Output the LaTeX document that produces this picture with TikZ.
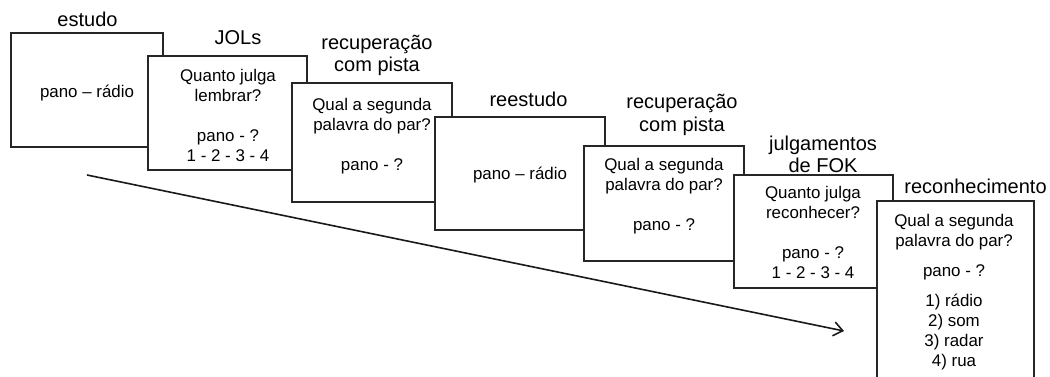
\documentclass[tikz,border=0pt]{standalone}
\usepackage{fontspec}
\setmainfont{Liberation Sans}
\usetikzlibrary{arrows.meta}
\tikzset{
  card/.style={draw=black!85, fill=white, line width=1.6pt, rectangle, inner sep=0pt},
  boxtxt/.style={anchor=base, inner sep=0pt, font=\fontsize{16.9}{20}\selectfont},
  lbl/.style={anchor=base, inner sep=0pt, font=\fontsize{20}{23}\selectfont},
  timearrow/.style={draw=black!90, line width=1.6pt, -{Straight Barb[length=9pt,width=14pt,line width=1.6pt]}}
}
\begin{document}
\begin{tikzpicture}[x=1pt,y=-1pt]
\useasboundingbox (0,0) rectangle (1050,376);
\clip (0,0) rectangle (1050,376);

% labels
\node[lbl] (l1) at (87.5,26) {estudo};
\node[lbl] (l2) at (238,44) {JOLs};
\node[lbl] (l3a) at (377,49) {recuperação};
\node[lbl] (l3b) at (377,71.5) {com pista};
\node[lbl] (l4) at (528.5,106.5) {reestudo};
\node[lbl] (l5a) at (682,108.5) {recuperação};
\node[lbl] (l5b) at (682,131) {com pista};
\node[lbl] (l6a) at (823,150) {julgamentos};
\node[lbl] (l6b) at (823,172) {de FOK};
\node[lbl] (l7) at (975.5,193) {reconhecimento};

% box 1
\node[card, minimum width=152pt, minimum height=114pt] (b1) at (87,90) {};
\node[boxtxt] (b1t) at (87,97) {pano – rádio};

% box 2
\node[card, minimum width=159pt, minimum height=114pt] (b2) at (227.5,113) {};
\foreach \t/\y [count=\i] in {Quanto julga/81, lembrar?/101, pano - ?/141, 1 - 2 - 3 - 4/161}
  \node[boxtxt] (b2t\i) at (228,\y) {\t};

% box 3
\node[card, minimum width=160pt, minimum height=119pt] (b3) at (372,142.5) {};
\foreach \t/\y [count=\i] in {Qual a segunda/110.5, palavra do par?/130.5, pano - ?/170.5}
  \node[boxtxt] (b3t\i) at (372,\y) {\t};

% box 4
\node[card, minimum width=170pt, minimum height=113pt] (b4) at (520,173.5) {};
\node[boxtxt] (b4t) at (520,179.5) {pano – rádio};

% box 5
\node[card, minimum width=160pt, minimum height=115pt] (b5) at (664,203.5) {};
\foreach \t/\y [count=\i] in {Qual a segunda/170.5, palavra do par?/190.5, pano - ?/230.5}
  \node[boxtxt] (b5t\i) at (664,\y) {\t};

% box 6
\node[card, minimum width=159pt, minimum height=113pt] (b6) at (813.5,231.5) {};
\foreach \t/\y [count=\i] in {Quanto julga/198.5, reconhecer?/218.5, pano - ?/258.5, 1 - 2 - 3 - 4/278.5}
  \node[boxtxt] (b6t\i) at (813,\y) {\t};

% box 7
\node[card, minimum width=157pt, minimum height=199pt] (b7) at (955.5,300.5) {};
\foreach \t/\y [count=\i] in {Qual a segunda/226.5, palavra do par?/246, pano - ?/276, 1) rádio/306, 2) som/326, 3) radar/346, 4) rua/366}
  \node[boxtxt] (b7t\i) at (954,\y) {\t};

% time arrow
\coordinate (as) at (87,175);
\coordinate (ae) at (844,331);
\draw[timearrow] (as) -- (ae);
\end{tikzpicture}
\end{document}
